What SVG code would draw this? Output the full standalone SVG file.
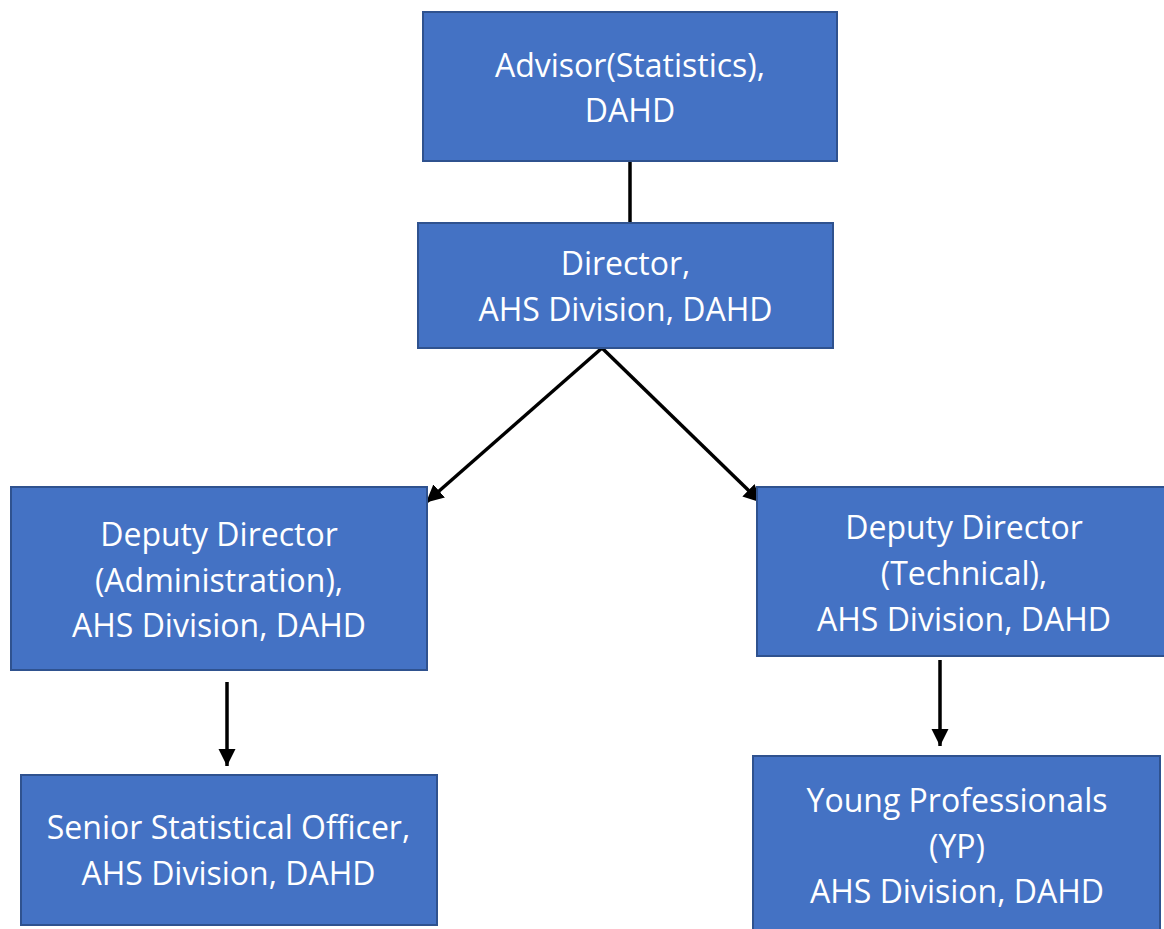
<svg xmlns="http://www.w3.org/2000/svg" width="1164" height="929" viewBox="0 0 1164 929">
<style>
.box{fill:#4472C4;stroke:#2F528F;stroke-width:2}
.t{font-family:"Open Sans","Liberation Sans",sans-serif;font-size:32px;fill:#FFFFFF;text-anchor:middle}
.c{stroke:#000;stroke-width:3.5;fill:none}
</style>
<defs>
<marker id="ah" markerWidth="5" markerHeight="5" refX="5" refY="2.5" orient="auto" markerUnits="strokeWidth">
<path d="M0,0 L5,2.5 L0,5 z" fill="#000"/>
</marker>
</defs>
<rect width="1164" height="929" fill="#FFFFFF"/>
<g id="connectors">
<line class="c" x1="630" y1="162" x2="630" y2="223"/>
<line class="c" x1="602" y1="348" x2="426" y2="502.5" marker-end="url(#ah)"/>
<line class="c" x1="602" y1="348" x2="761" y2="502.5" marker-end="url(#ah)"/>
<line class="c" x1="227" y1="682" x2="227" y2="766" marker-end="url(#ah)"/>
<line class="c" x1="940" y1="660" x2="940" y2="746" marker-end="url(#ah)"/>
</g>
<g id="advisor">
<rect class="box" x="423" y="12" width="414" height="149"/>
<text class="t" x="630" y="77">Advisor(Statistics),</text>
<text class="t" x="630" y="122">DAHD</text>
</g>
<g id="director">
<rect class="box" x="418" y="223" width="415" height="125"/>
<text class="t" x="625.5" y="275">Director,</text>
<text class="t" x="625.5" y="321">AHS Division, DAHD</text>
</g>
<g id="dd-admin">
<rect class="box" x="11" y="487" width="416" height="183"/>
<text class="t" x="219" y="546">Deputy Director</text>
<text class="t" x="219" y="592">(Administration),</text>
<text class="t" x="219" y="637">AHS Division, DAHD</text>
</g>
<g id="dd-tech">
<rect class="box" x="757" y="487" width="408" height="169"/>
<text class="t" x="964" y="539">Deputy Director</text>
<text class="t" x="964" y="585">(Technical),</text>
<text class="t" x="964" y="631">AHS Division, DAHD</text>
</g>
<g id="sso">
<rect class="box" x="21" y="775" width="416" height="150"/>
<text class="t" x="228.5" y="839">Senior Statistical Officer,</text>
<text class="t" x="228.5" y="885">AHS Division, DAHD</text>
</g>
<g id="yp">
<rect class="box" x="753" y="756" width="407" height="180"/>
<text class="t" x="957" y="812">Young Professionals</text>
<text class="t" x="957" y="858">(YP)</text>
<text class="t" x="957" y="903">AHS Division, DAHD</text>
</g>
</svg>
